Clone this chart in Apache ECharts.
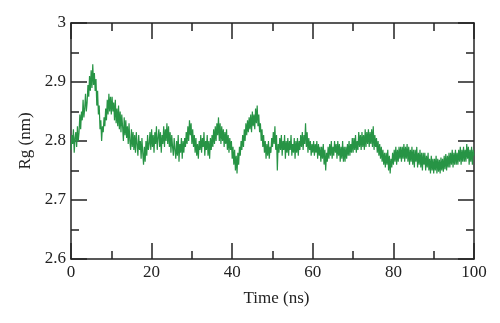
<!DOCTYPE html>
<html>
<head>
<meta charset="utf-8">
<script src="https://cdn.jsdelivr.net/npm/echarts@6/dist/echarts.min.js"></script>
<style>html,body{margin:0;padding:0;background:#fff}#c{width:500px;height:323px}</style>
</head>
<body>
<div id="c"></div>
<script>
// Time step between samples (ns) and Rg values (nm)
const timeStep = 0.2;
const rgValues = [
  2.785, 2.81, 2.795, 2.82, 2.78, 2.805, 2.815, 2.79, 2.825, 2.80,
  2.815, 2.845, 2.82, 2.85, 2.835, 2.87, 2.84, 2.855, 2.88, 2.85,
  2.865, 2.895, 2.875, 2.91, 2.885, 2.92, 2.89, 2.93, 2.895, 2.915,
  2.885, 2.905, 2.86, 2.885, 2.845, 2.86, 2.82, 2.835, 2.80, 2.825,
  2.815, 2.84, 2.825, 2.855, 2.835, 2.87, 2.845, 2.88, 2.85, 2.875,
  2.845, 2.875, 2.85, 2.865, 2.835, 2.87, 2.83, 2.855, 2.825, 2.86,
  2.82, 2.85, 2.815, 2.845, 2.825, 2.80, 2.84, 2.81, 2.835, 2.805,
  2.825, 2.795, 2.83, 2.80, 2.785, 2.82, 2.79, 2.815, 2.785, 2.81,
  2.78, 2.815, 2.795, 2.775, 2.81, 2.785, 2.80, 2.77, 2.805, 2.78,
  2.76, 2.79, 2.765, 2.80, 2.775, 2.81, 2.785, 2.795, 2.815, 2.785,
  2.82, 2.79, 2.81, 2.78, 2.815, 2.795, 2.825, 2.785, 2.805, 2.82,
  2.79, 2.815, 2.78, 2.81, 2.795, 2.825, 2.79, 2.82, 2.80, 2.83,
  2.795, 2.825, 2.79, 2.815, 2.78, 2.81, 2.79, 2.775, 2.805, 2.785,
  2.77, 2.80, 2.775, 2.81, 2.765, 2.795, 2.78, 2.805, 2.77, 2.80,
  2.78, 2.805, 2.79, 2.815, 2.795, 2.825, 2.80, 2.835, 2.81, 2.83,
  2.795, 2.82, 2.79, 2.81, 2.78, 2.805, 2.775, 2.795, 2.77, 2.80,
  2.785, 2.81, 2.78, 2.805, 2.79, 2.815, 2.775, 2.80, 2.785, 2.81,
  2.775, 2.80, 2.77, 2.805, 2.785, 2.81, 2.79, 2.82, 2.795, 2.825,
  2.80, 2.83, 2.81, 2.84, 2.80, 2.83, 2.795, 2.825, 2.80, 2.82,
  2.79, 2.815, 2.795, 2.82, 2.785, 2.81, 2.78, 2.805, 2.785, 2.80,
  2.77, 2.79, 2.76, 2.785, 2.75, 2.775, 2.745, 2.78, 2.76, 2.79,
  2.775, 2.80, 2.785, 2.81, 2.79, 2.82, 2.80, 2.83, 2.81, 2.835,
  2.815, 2.84, 2.82, 2.845, 2.815, 2.85, 2.825, 2.845, 2.82, 2.855,
  2.83, 2.86, 2.825, 2.845, 2.815, 2.83, 2.80, 2.82, 2.79, 2.81,
  2.78, 2.80, 2.77, 2.795, 2.775, 2.80, 2.77, 2.79, 2.78, 2.805,
  2.79, 2.815, 2.795, 2.825, 2.785, 2.81, 2.75, 2.795, 2.78, 2.805,
  2.785, 2.81, 2.775, 2.80, 2.785, 2.81, 2.77, 2.80, 2.78, 2.805,
  2.775, 2.80, 2.785, 2.81, 2.775, 2.795, 2.78, 2.805, 2.77, 2.80,
  2.78, 2.805, 2.775, 2.80, 2.785, 2.81, 2.79, 2.815, 2.785, 2.81,
  2.795, 2.83, 2.79, 2.815, 2.78, 2.805, 2.785, 2.80, 2.775, 2.795,
  2.78, 2.80, 2.775, 2.795, 2.78, 2.80, 2.77, 2.795, 2.775, 2.79,
  2.765, 2.79, 2.77, 2.795, 2.76, 2.785, 2.75, 2.78, 2.765, 2.79,
  2.77, 2.795, 2.775, 2.80, 2.77, 2.79, 2.775, 2.80, 2.78, 2.795,
  2.77, 2.80, 2.775, 2.795, 2.765, 2.79, 2.77, 2.80, 2.765, 2.79,
  2.765, 2.79, 2.77, 2.795, 2.775, 2.80, 2.775, 2.795, 2.78, 2.805,
  2.78, 2.805, 2.785, 2.81, 2.78, 2.80, 2.785, 2.815, 2.79, 2.81,
  2.785, 2.815, 2.79, 2.81, 2.785, 2.82, 2.79, 2.815, 2.795, 2.82,
  2.79, 2.815, 2.795, 2.82, 2.79, 2.825, 2.785, 2.81, 2.79, 2.805,
  2.78, 2.80, 2.775, 2.795, 2.77, 2.79, 2.765, 2.785, 2.76, 2.78,
  2.755, 2.78, 2.76, 2.785, 2.75, 2.775, 2.745, 2.77, 2.755, 2.78,
  2.76, 2.785, 2.765, 2.79, 2.76, 2.785, 2.765, 2.79, 2.77, 2.79,
  2.765, 2.79, 2.77, 2.795, 2.765, 2.79, 2.77, 2.795, 2.765, 2.79,
  2.76, 2.785, 2.765, 2.79, 2.76, 2.785, 2.755, 2.785, 2.765, 2.79,
  2.755, 2.78, 2.76, 2.785, 2.755, 2.78, 2.75, 2.78, 2.76, 2.78,
  2.75, 2.775, 2.755, 2.78, 2.75, 2.77, 2.745, 2.775, 2.75, 2.77,
  2.745, 2.77, 2.75, 2.775, 2.745, 2.77, 2.748, 2.768, 2.745, 2.772,
  2.75, 2.77, 2.748, 2.775, 2.752, 2.778, 2.75, 2.775, 2.755, 2.78,
  2.755, 2.78, 2.76, 2.785, 2.755, 2.78, 2.76, 2.785, 2.76, 2.78,
  2.76, 2.785, 2.765, 2.79, 2.76, 2.785, 2.765, 2.79, 2.765, 2.785,
  2.765, 2.795, 2.77, 2.79, 2.76, 2.785, 2.765, 2.79, 2.76, 2.785,
  2.775
];
const xTicks = [0, 20, 40, 60, 80, 100];
const yTicks = [2.6, 2.7, 2.8, 2.9, 3];
const xName = 'Time (ns)';
const yName = 'Rg (nm)';

const seriesData = rgValues.map((v, i) => [i * timeStep, v]);
const font = '"Liberation Serif", "DejaVu Serif", serif';
const axisColor = '#222';
const xMin = xTicks[0], xMax = xTicks[xTicks.length - 1];
const yMin = yTicks[0], yMax = yTicks[yTicks.length - 1];

function xAx(pos, interval, len, withLine, withLabel) {
  return {
    type: 'value', position: pos, min: xMin, max: xMax, interval: interval,
    axisLine: {show: withLine, onZero: false, lineStyle: {color: axisColor, width: 1.5}},
    axisTick: {show: true, inside: true, length: len, lineStyle: {color: axisColor, width: 1.5}},
    axisLabel: withLabel ? {fontFamily: font, fontSize: 17, color: axisColor, margin: 5} : {show: false},
    splitLine: {show: false}
  };
}
function yAx(pos, interval, len, withLine, withLabel) {
  return {
    type: 'value', position: pos, min: yMin, max: yMax, interval: interval,
    axisLine: {show: withLine, onZero: false, lineStyle: {color: axisColor, width: 1.5}},
    axisTick: {show: true, inside: true, length: len, lineStyle: {color: axisColor, width: 1.5}},
    axisLabel: withLabel ? {fontFamily: font, fontSize: 17, color: axisColor, margin: 5,
      formatter: v => String(Math.round(v * 10) / 10)} : {show: false},
    splitLine: {show: false}
  };
}

const xMain = xAx('bottom', 20, 16, true, true);
Object.assign(xMain, {name: xName, nameLocation: 'middle', nameGap: 31,
  nameTextStyle: {fontFamily: font, fontSize: 17, color: axisColor, padding: [0, 0, 0, 8]}});
const yMain = yAx('left', 0.1, 16, true, true);
Object.assign(yMain, {name: yName, nameLocation: 'middle', nameGap: 35, nameRotate: 90,
  nameTextStyle: {fontFamily: font, fontSize: 17, color: axisColor}});

const chart = echarts.init(document.getElementById('c'), null, {renderer: 'canvas'});
chart.setOption({
  animation: false,
  backgroundColor: '#fff',
  grid: {left: 71, right: 26, top: 23, bottom: 64},
  xAxis: [
    xMain,
    xAx('top', 20, 16, true, false),
    xAx('bottom', 10, 8, false, false),
    xAx('top', 10, 8, false, false)
  ],
  yAxis: [
    yMain,
    yAx('right', 0.1, 16, true, false),
    yAx('left', 0.05, 8, false, false),
    yAx('right', 0.05, 8, false, false)
  ],
  series: [{
    type: 'line', xAxisIndex: 0, yAxisIndex: 0,
    data: seriesData, showSymbol: false, symbol: 'none',
    lineStyle: {color: '#279445', width: 1.2},
    z: 1
  }]
});
</script>
</body>
</html>
